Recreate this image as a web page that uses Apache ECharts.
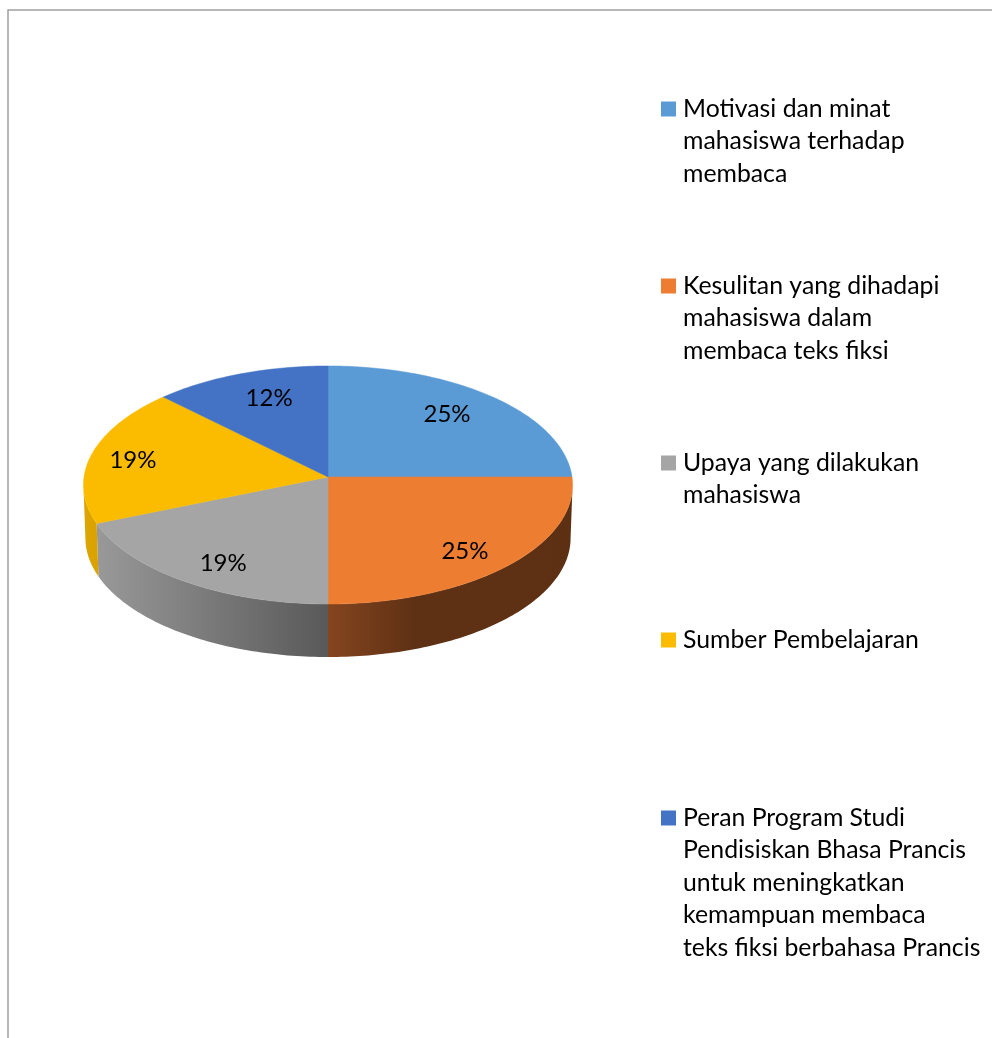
<!DOCTYPE html>
<html>
<head>
<meta charset="utf-8">
<title>Pie</title>
<script src="https://cdn.jsdelivr.net/npm/echarts@6/dist/echarts.min.js"></script>
<style>
  html, body { margin: 0; padding: 0; background: #fff; }
  #main { width: 992px; height: 1038px; }
</style>
</head>
<body>
<div id="main"></div>
<script>
var categories = [
  'Motivasi dan minat\nmahasiswa terhadap\nmembaca',
  'Kesulitan yang dihadapi\nmahasiswa dalam\nmembaca teks fiksi',
  'Upaya yang dilakukan\nmahasiswa',
  'Sumber Pembelajaran',
  'Peran Program Studi\nPendisiskan Bhasa Prancis\nuntuk meningkatkan\nkemampuan membaca\nteks fiksi berbahasa Prancis'
]
// slice sizes as measured on the disc, the printed labels are rounded
var shares = [25, 25, 18.75, 18.75, 12.5]
var shareLabels = ['25%', '25%', '19%', '19%', '12%']

var colors = ['#5B9BD5', '#ED7D31', '#A5A5A5', '#FBBC00', '#4472C4']
// side wall fill of each slice, null = slice sits at the back
var wallStops = [
  null,
  [[0, '#84451F'], [0.35, '#5F3114'], [1, '#5D3014']],
  [[0, '#999999'], [1, '#595959']],
  [[0, '#DDA500'], [1, '#D8A200']],
  null
]
// label place inside each slice, fraction of the radius (x, y)
var labelFx = [0.69, 0.794, 0.773, 0.815, 0.631]
var labelFy = [0.764, 0.87, 0.867, 0.78, 0.73]

var FONT = 'Lato, sans-serif'
var cx = 328
var cy = 477
var rx = 244
var ry = 118.5
var persp = 0.0672 // back of the disc is drawn a bit smaller
var depth = 53
var legendX = 661
var legendFirstY = [109, 286, 463, 640, 818]
var lineH = 32.5
var rad = Math.PI / 180
var edgeAngle = Math.acos(-persp) / rad // where the rim turns away, right side

function rimPoint (deg, lower) {
  var u = Math.sin(deg * rad)
  var v = Math.cos(deg * rad)
  var w = 1 + persp * v
  var sx = lower ? 0.992 : 1
  return [cx + sx * rx * u / w, cy - ry * v / w + (lower ? depth : 0)]
}

function arcPoints (from, to, lower) {
  var pts = []
  var n = Math.max(2, Math.ceil(Math.abs(to - from)))
  for (var i = 0; i <= n; i++) {
    pts.push(rimPoint(from + (to - from) * i / n, lower))
  }
  return pts
}

function renderSlice (idx) {
  return function (params, api) {
    var startPct = api.value(0)
    var pct = api.value(1)
    var a0 = startPct * 3.6
    var a1 = (startPct + pct) * 3.6
    var children = []

    var w0 = Math.max(a0, edgeAngle)
    var w1 = Math.min(a1, 360 - edgeAngle)
    if (wallStops[idx] && w1 > w0) {
      children.push({
        type: 'polygon',
        shape: { points: arcPoints(w0, w1, false).concat(arcPoints(w1, w0, true)) },
        style: {
          fill: new echarts.graphic.LinearGradient(0, 0, 1, 0, wallStops[idx].map(function (s) {
            return { offset: s[0], color: s[1] }
          }))
        }
      })
    }

    children.push({
      type: 'polygon',
      shape: { points: [[cx, cy]].concat(arcPoints(a0, a1, false)) },
      style: { fill: colors[idx], stroke: colors[idx], lineWidth: 0.5 }
    })

    var mid = (a0 + a1) / 2
    children.push({
      type: 'text',
      z2: 10,
      style: {
        text: shareLabels[idx],
        x: cx + rx * Math.sin(mid * rad) * labelFx[idx],
        y: cy - ry * Math.cos(mid * rad) * labelFy[idx] + 1,
        align: 'center',
        verticalAlign: 'middle',
        fontFamily: FONT,
        fontSize: 24,
        fill: '#000'
      }
    })
    return { type: 'group', children: children }
  }
}

var seriesList = []
var legendList = []
var running = 0
categories.forEach(function (name, i) {
  seriesList.push({
    type: 'custom',
    name: name,
    coordinateSystem: 'none',
    animation: false,
    silent: true,
    itemStyle: { color: colors[i] },
    renderItem: renderSlice(i),
    data: [[running, shares[i]]]
  })
  running += shares[i]

  // one legend per entry, blank lines above keep the swatch on the first text line
  var n = name.split('\n').length
  legendList.push({
    data: [name],
    left: legendX,
    top: legendFirstY[i] - (2 * n - 1) * lineH / 2,
    padding: 0,
    icon: 'rect',
    itemWidth: 15,
    itemHeight: 15,
    itemGap: 0,
    selectedMode: false,
    formatter: function (text) {
      return new Array(n).join('\n') + text
    },
    textStyle: {
      fontFamily: FONT,
      fontSize: 24.8,
      lineHeight: lineH,
      color: '#000',
      padding: [0, 0, 0, 2]
    }
  })
})

var myChart = echarts.init(document.getElementById('main'), null, { renderer: 'canvas' })
myChart.setOption({
  animation: false,
  backgroundColor: '#fff',
  legend: legendList,
  graphic: [{
    type: 'polyline',
    silent: true,
    shape: { points: [[8, 1038], [8, 10], [992, 10]] },
    style: { stroke: '#A0A0A0', lineWidth: 1.5, fill: null }
  }],
  series: seriesList
})
</script>
</body>
</html>
